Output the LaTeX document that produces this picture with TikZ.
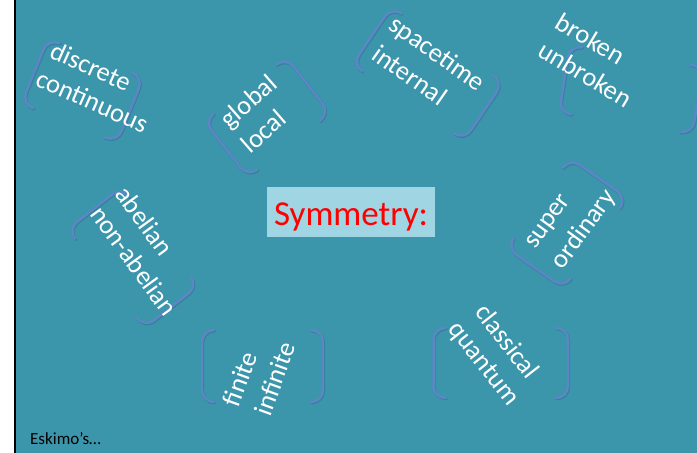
\documentclass[tikz,border=0pt]{standalone}
\usepackage{fontspec}
\setmainfont{Carlito}
\usetikzlibrary{calc}

\definecolor{slidebg}{RGB}{60,150,171}
\definecolor{brkblue}{RGB}{92,134,198}
\definecolor{brkshade}{RGB}{30,90,115}
\definecolor{titlebox}{RGB}{160,213,228}

\tikzset{
  pairframe/.style={rectangle, inner sep=0pt, outer sep=0pt, draw=none},
  brkline/.style={draw=brkblue, line width=2.4pt, rounded corners=12pt, line cap=round},
  brkshadow/.style={brkline, draw=brkshade, opacity=0.3, line width=2.8pt,
    transform canvas={shift={(0.7pt,-1pt)}}},
  word/.style={text=white, font=\fontsize{26.5}{32}\selectfont,
    inner sep=0pt, outer sep=0pt, anchor=mid west},
}

% a PowerPoint-like bracket pair around a (possibly rotated) frame node
\newcommand\bracketpair[1]{%
  \foreach \brkstyle in {brkshadow,brkline}{%
    \draw[\brkstyle] ($(#1.north west)!12pt!(#1.north east)$) -- (#1.north west)
      -- (#1.south west) -- ($(#1.south west)!12pt!(#1.south east)$);
    \draw[\brkstyle] ($(#1.north east)!12pt!(#1.north west)$) -- (#1.north east)
      -- (#1.south east) -- ($(#1.south east)!12pt!(#1.south west)$);
  }%
}

\begin{document}
\begin{tikzpicture}[x=1pt,y=-1pt]
  \useasboundingbox (0,0) rectangle (697,453);
  \fill[white] (0,0) rectangle (14,453);
  \fill[black] (14,0) rectangle (16,453);
  \fill[slidebg] (16,0) rectangle (697,453);

  % bracket frames
  \node[pairframe, minimum width=103, minimum height=70, rotate=-22] (b1) at (82.5,90.5) {};
  \node[pairframe, minimum width=104, minimum height=71, rotate=38]  (b2) at (267,117) {};
  \node[pairframe, minimum width=135, minimum height=70, rotate=-34] (b3) at (427.8,73.5) {};
  \node[pairframe, minimum width=135, minimum height=68, rotate=-9]  (b4) at (631.2,89.6) {};
  \node[pairframe, minimum width=125, minimum height=68, rotate=-52] (b5) at (132.9,257.6) {};
  \node[pairframe, minimum width=110, minimum height=70, rotate=55]  (b6) at (566.9,223.1) {};
  \node[pairframe, minimum width=121, minimum height=72]             (b7) at (262.5,366) {};
  \node[pairframe, minimum width=134.5, minimum height=70]           (b8) at (500.8,363) {};

  \bracketpair{b1}
  \bracketpair{b2}
  \bracketpair{b3}
  \bracketpair{b4}
  \bracketpair{b5}
  \bracketpair{b6}
  \bracketpair{b7}
  \bracketpair{b8}

  % word pairs
  \node[word, rotate=-24] (t1a) at (49.3,55) {discrete};
  \node[word, rotate=-24] (t1b) at (35,83) {continuous};

  \node[word, rotate=41] (t2a) at (228,127.5) {global};
  \node[word, rotate=41] (t2b) at (249,152.5) {local};

  \node[word, rotate=-35] (t3a) at (388.7,26.7) {spacetime};
  \node[word, rotate=-35] (t3b) at (372,56.7) {internal};

  \node[word, rotate=-31] (t4a) at (555,25.1) {broken};
  \node[word, rotate=-31] (t4b) at (538,53.4) {unbroken};

  \node[word, rotate=-54] (t5a) at (116.3,193.2) {abelian};
  \node[word, rotate=-54] (t5b) at (91,212.7) {non-abelian};

  \node[word, rotate=54] (t6a) at (533.6,248.2) {super};
  \node[word, rotate=54] (t6b) at (560.9,269) {ordinary};

  \node[word, rotate=70] (t7a) at (236.4,407.3) {finite};
  \node[word, rotate=70] (t7b) at (268,416.7) {infinite};

  \node[word, rotate=-52] (t8a) at (475.9,311) {classical};
  \node[word, rotate=-52] (t8b) at (449.7,327.9) {quantum};

  % title
  \node[fill=titlebox, inner sep=0pt, minimum width=168, minimum height=49.5,
        text height=26pt, text depth=0pt, text=red,
        font=\fontsize{35}{40}\selectfont] (title) at (351,212) {Symmetry:};

  % footer
  \node[anchor=base west, inner sep=0pt, text=black,
        font=\fontsize{17}{20}\selectfont] (foot) at (30,444) {Eskimo’s…};
\end{tikzpicture}
\end{document}
